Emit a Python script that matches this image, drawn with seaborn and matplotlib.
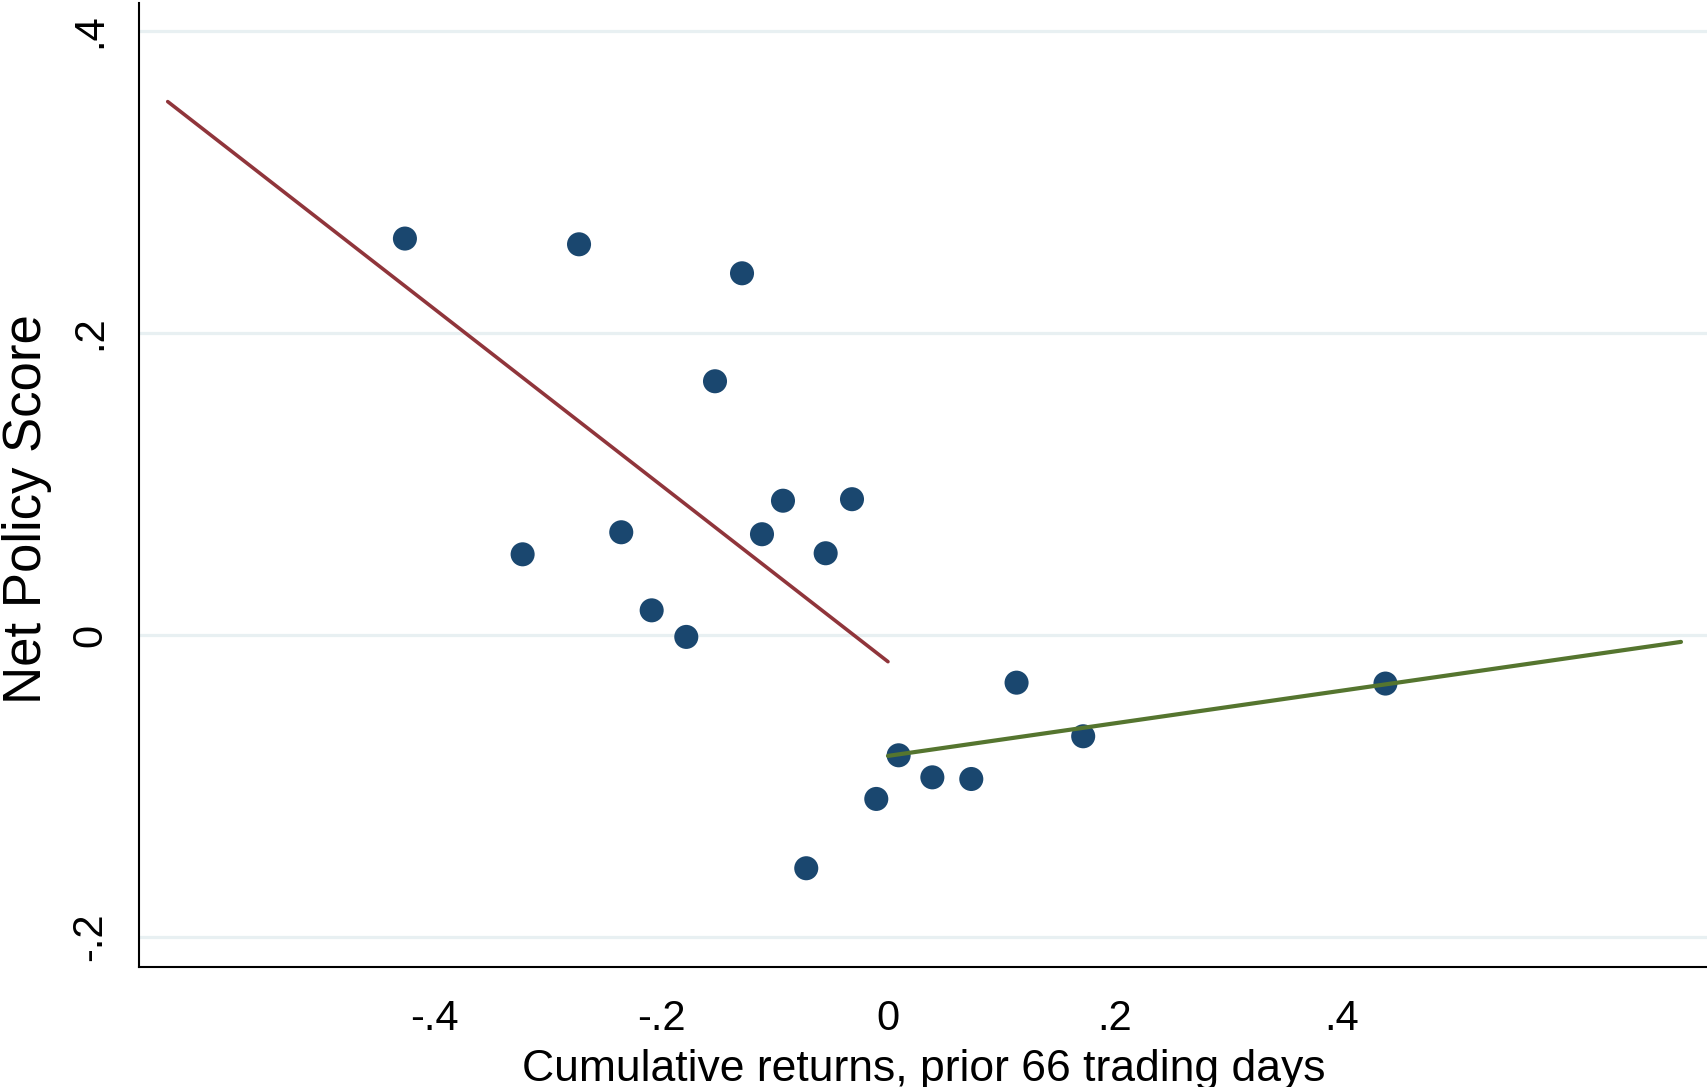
import numpy as np
import pandas as pd
import seaborn as sns
import matplotlib
matplotlib.use("Agg")
import matplotlib.pyplot as plt

# Binned means: cumulative returns vs. net policy score
returns = [-0.4256, -0.2722, -0.1286, -0.1524, -0.3219, -0.2350, -0.2082, -0.1777,
           -0.0925, -0.1110, -0.0317, -0.0549, -0.0720, -0.0103, 0.0094, 0.0391,
           0.0734, 0.1133, 0.1720, 0.4383]
policy_score = [0.2625, 0.2587, 0.2395, 0.1680, 0.0534, 0.0680, 0.0163, -0.0013,
                0.0889, 0.0667, 0.0899, 0.0541, -0.1545, -0.1086, -0.0797, -0.0943,
                -0.0954, -0.0316, -0.0671, -0.0322]

# Linear fits on each side of zero
fit_neg_x = [-0.6346, 0.0]
fit_neg_y = [0.3532, -0.0177]
fit_pos_x = [0.0, 0.6987]
fit_pos_y = [-0.0801, -0.0046]

x_ticks = [-0.4, -0.2, 0.0, 0.2, 0.4]
x_tick_labels = ["-.4", "-.2", "0", ".2", ".4"]
y_ticks = [-0.2, 0.0, 0.2, 0.4]
y_tick_labels = ["-.2", "0", ".2", ".4"]

sns.set_theme(style="white")
plt.rcParams["font.family"] = ["Liberation Sans", "DejaVu Sans"]
plt.rcParams["text.color"] = "black"
plt.rcParams["axes.labelcolor"] = "black"
plt.rcParams["xtick.color"] = "black"
plt.rcParams["ytick.color"] = "black"

fig = plt.figure(figsize=(17.08, 10.87), dpi=100)
ax = fig.add_axes([139 / 1708, 1 - 967 / 1087, 1 - 139 / 1708, (967 - 3) / 1087])

pts = pd.DataFrame({"ret": returns, "score": policy_score})
neg = pd.DataFrame({"ret": fit_neg_x, "score": fit_neg_y})
pos = pd.DataFrame({"ret": fit_pos_x, "score": fit_pos_y})

for yv in y_ticks:
    ax.axhline(yv, color="#E8F0F2", lw=2.3, zorder=0)

sns.lineplot(data=neg, x="ret", y="score", ax=ax, color="#90353B", lw=2.6,
             zorder=2, sort=False)
sns.scatterplot(data=pts, x="ret", y="score", ax=ax, s=300, color="#1A476F",
                edgecolor="none", zorder=3)
sns.lineplot(data=pos, x="ret", y="score", ax=ax, color="#55752F", lw=3.0,
             zorder=4, sort=False)

ax.set_xlim(-0.6599, 0.7225)
ax.set_ylim(-0.2199, 0.4185)

ax.set_xticks(x_ticks)
ax.set_xticklabels(x_tick_labels)
ax.set_yticks(y_ticks)
ax.set_yticklabels(y_tick_labels, rotation=90, va="center")

ax.tick_params(axis="both", which="major", direction="out", length=12.7,
               width=1.5, color="black", labelcolor="black", labelsize=30, pad=10)
ax.tick_params(axis="y", pad=8)

for side in ["top", "right"]:
    ax.spines[side].set_visible(False)
for side in ["left", "bottom"]:
    ax.spines[side].set_color("black")
    ax.spines[side].set_linewidth(1.5)

ax.set_xlabel("Cumulative returns, prior 66 trading days", fontsize=32, labelpad=0)
ax.set_ylabel("Net Policy Score", fontsize=38)
ax.xaxis.set_label_coords(0.5, -0.085)
ax.yaxis.set_label_coords(-0.0555, 0.475)

fig.savefig("out.png", dpi=100)
